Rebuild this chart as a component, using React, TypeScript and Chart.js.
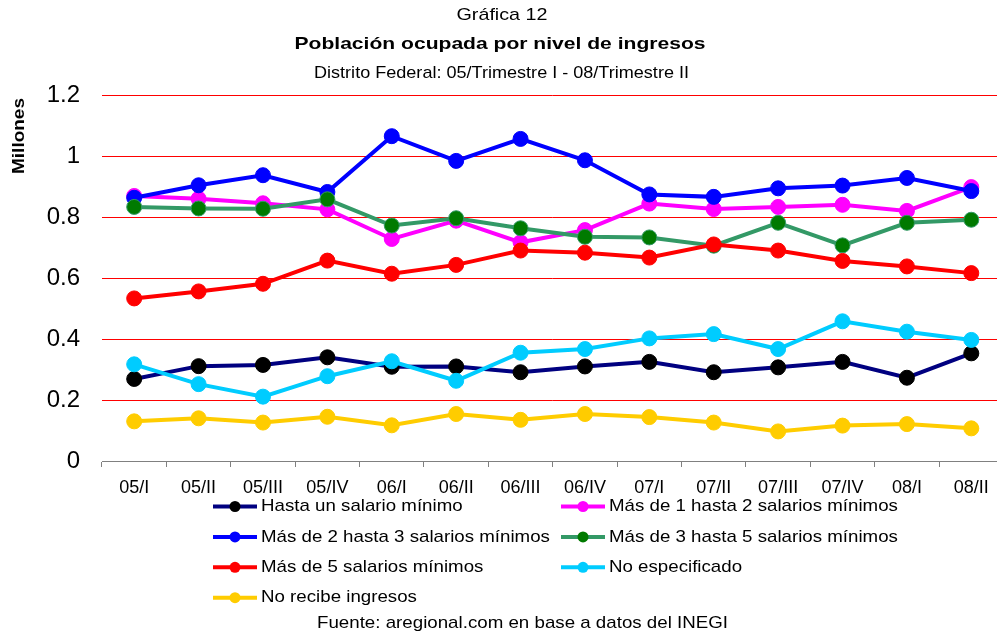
import React, { useEffect, useRef } from 'react';
import { Chart, registerables } from 'chart.js';

Chart.register(...registerables);

const categories = ['05/I', '05/II', '05/III', '05/IV', '06/I', '06/II', '06/III', '06/IV', '07/I', '07/II', '07/III', '07/IV', '08/I', '08/II'];

const seriesNames = [
  'Hasta un salario mínimo',
  'Más de 1 hasta 2 salarios mínimos',
  'Más de 2 hasta 3 salarios mínimos',
  'Más de 3 hasta 5 salarios mínimos',
  'Más de 5 salarios mínimos',
  'No especificado',
  'No recibe ingresos',
];

const hastaUnSalario = [0.269, 0.311, 0.315, 0.340, 0.309, 0.310, 0.291, 0.310, 0.325, 0.291, 0.307, 0.325, 0.273, 0.353];
const masDe1Hasta2 = [0.869, 0.860, 0.845, 0.825, 0.728, 0.788, 0.717, 0.757, 0.844, 0.826, 0.833, 0.840, 0.820, 0.898];
const masDe2Hasta3 = [0.863, 0.904, 0.937, 0.882, 1.065, 0.984, 1.056, 0.986, 0.874, 0.866, 0.894, 0.903, 0.928, 0.885];
const masDe3Hasta5 = [0.833, 0.828, 0.827, 0.858, 0.772, 0.796, 0.763, 0.735, 0.733, 0.706, 0.781, 0.707, 0.781, 0.791];
const masDe5 = [0.533, 0.556, 0.581, 0.657, 0.614, 0.643, 0.690, 0.683, 0.667, 0.710, 0.690, 0.656, 0.638, 0.616];
const noEspecificado = [0.317, 0.252, 0.211, 0.278, 0.327, 0.263, 0.355, 0.367, 0.402, 0.416, 0.367, 0.458, 0.424, 0.397];
const noRecibeIngresos = [0.130, 0.140, 0.126, 0.145, 0.117, 0.154, 0.135, 0.154, 0.144, 0.126, 0.097, 0.116, 0.121, 0.107];

const yTicksMin = 0;
const yTicksMax = 1.2;
const yTicksStep = 0.2;

const titleText = 'Gráfica 12';
const titleBold = 'Población ocupada por nivel de ingresos';
const subtitleText = 'Distrito Federal: 05/Trimestre I - 08/Trimestre II';
const yAxisTitle = 'Millones';
const footerText = 'Fuente: aregional.com en base a datos del INEGI';

const FONT = '"Liberation Sans", Arial, Helvetica, sans-serif';

const styles = [
  { line: '#000080', point: '#000000', pointBorder: '#000000' },
  { line: '#FF00FF', point: '#FF00FF', pointBorder: '#FF00FF' },
  { line: '#0000FF', point: '#0000FF', pointBorder: '#0000FF' },
  { line: '#339966', point: '#007A00', pointBorder: '#339966' },
  { line: '#FF0000', point: '#FF0000', pointBorder: '#FF0000' },
  { line: '#00CCFF', point: '#00CCFF', pointBorder: '#00CCFF' },
  { line: '#FFCC00', point: '#FFCC00', pointBorder: '#FFCC00' },
];

function drawFitText(
  ctx: CanvasRenderingContext2D,
  text: string,
  x: number,
  y: number,
  font: string,
  targetWidth: number,
  rotate = 0
) {
  ctx.save();
  ctx.font = font;
  ctx.fillStyle = '#000';
  ctx.textBaseline = 'middle';
  ctx.textAlign = 'center';
  const w = ctx.measureText(text).width;
  const sx = targetWidth / w;
  ctx.translate(x, y);
  if (rotate) ctx.rotate(rotate);
  ctx.scale(sx, 1);
  ctx.fillText(text, 0, 0);
  ctx.restore();
}

export default function App() {
  const ref = useRef<HTMLCanvasElement>(null);

  useEffect(() => {
    const canvas = ref.current;
    if (!canvas) return;
    const series = [hastaUnSalario, masDe1Hasta2, masDe2Hasta3, masDe3Hasta5, masDe5, noEspecificado, noRecibeIngresos];
    const datasets = series.map((d, i) => ({
      label: seriesNames[i],
      data: d,
      borderColor: styles[i].line,
      backgroundColor: styles[i].point,
      pointBackgroundColor: styles[i].point,
      pointBorderColor: styles[i].pointBorder,
      pointBorderWidth: 1,
      pointRadius: 7.5,
      pointHoverRadius: 7.5,
      borderWidth: 4,
      tension: 0,
      fill: false,
      order: series.length - i,
    }));

    const textPlugin = {
      id: 'customTexts',
      afterDraw(chart: any) {
        const ctx: CanvasRenderingContext2D = chart.ctx;
        drawFitText(ctx, titleText, 502, 15, `17px ${FONT}`, 91);
        drawFitText(ctx, titleBold, 500, 44, `bold 17px ${FONT}`, 411);
        drawFitText(ctx, subtitleText, 501.5, 73, `17px ${FONT}`, 375);
        drawFitText(ctx, yAxisTitle, 19.5, 136, `bold 16px ${FONT}`, 76, -Math.PI / 2);
        drawFitText(ctx, footerText, 522.5, 623, `17px ${FONT}`, 411);

        const legendX = [213, 561];
        const legendY0 = 506.5;
        const legendStep = 30.4;
        datasets.forEach((ds, i) => {
          const col = i % 2;
          const row = Math.floor(i / 2);
          const x0 = legendX[col];
          const y = legendY0 + row * legendStep;
          ctx.save();
          ctx.strokeStyle = ds.borderColor;
          ctx.lineWidth = 4;
          ctx.beginPath();
          ctx.moveTo(x0, y);
          ctx.lineTo(x0 + 44, y);
          ctx.stroke();
          ctx.beginPath();
          ctx.arc(x0 + 22, y, 5.5, 0, Math.PI * 2);
          ctx.fillStyle = ds.pointBackgroundColor;
          ctx.fill();
          ctx.font = `17px ${FONT}`;
          ctx.fillStyle = '#000';
          ctx.textBaseline = 'middle';
          ctx.textAlign = 'left';
          ctx.translate(x0 + 48, y);
          ctx.scale(1.1, 1);
          ctx.fillText(ds.label, 0, 0);
          ctx.restore();
        });
      },
    };

    const chart = new Chart(canvas, {
      type: 'line',
      data: { labels: categories, datasets },
      options: {
        responsive: false,
        animation: false,
        devicePixelRatio: 1,
        layout: { padding: { top: 95, right: 7, left: 0, bottom: 0 } },
        plugins: {
          legend: { display: false },
          title: { display: false },
          tooltip: { enabled: false },
        },
        scales: {
          x: {
            type: 'category',
            offset: true,
            grid: {
              display: true,
              drawOnChartArea: false,
              drawTicks: true,
              tickLength: 6,
              color: '#808080',
              offset: true,
            },
            border: { display: true, color: '#808080', width: 1 },
            ticks: {
              color: '#000',
              font: { family: FONT, size: 18 },
              padding: 10,
              maxRotation: 0,
              minRotation: 0,
              autoSkip: false,
            },
            afterFit: (s: any) => {
              s.height = 173;
            },
          },
          y: {
            min: yTicksMin,
            max: yTicksMax,
            grid: {
              color: (c: any) => (c.tick && c.tick.value === 0 ? 'rgba(0,0,0,0)' : '#FF0000'),
              lineWidth: 1,
              drawTicks: false,
            },
            border: { display: false },
            ticks: {
              stepSize: yTicksStep,
              color: '#000',
              font: { family: FONT, size: 24 },
              padding: 22,
              callback: (v: any) => String(Math.round(Number(v) * 10) / 10),
            },
            afterFit: (s: any) => {
              s.width = 102;
            },
          },
        },
      } as any,
      plugins: [textPlugin],
    });
    return () => chart.destroy();
  }, []);

  return (
    <div style={{ position: 'fixed', left: 0, top: 0, width: 997, height: 634, overflow: 'hidden', background: '#fff' }}>
      <canvas ref={ref} width={1012} height={634} style={{ display: 'block', width: 1012, height: 634 }} />
    </div>
  );
}
